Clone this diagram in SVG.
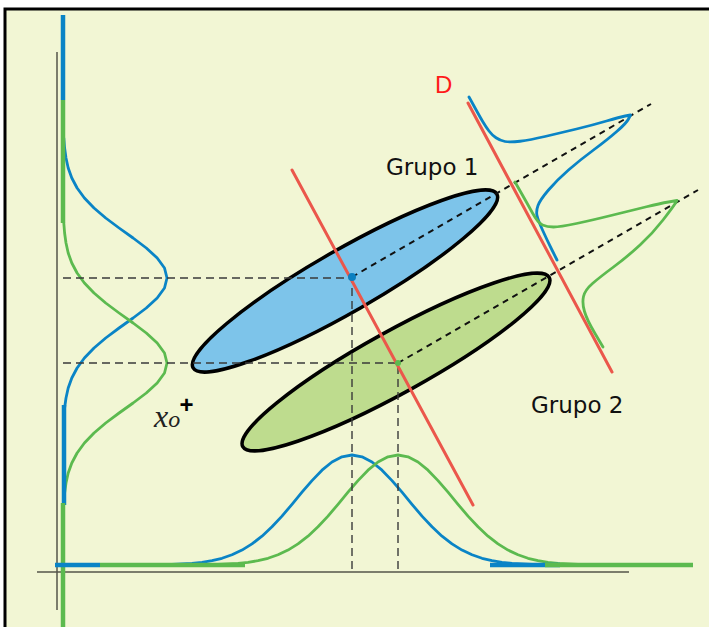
<svg xmlns="http://www.w3.org/2000/svg" xmlns:xlink="http://www.w3.org/1999/xlink" width="709" height="627" viewBox="0 0 709 627">
<style>
.axis{stroke:#55554a;stroke-width:1.5;fill:none}
.curve{fill:none;stroke-width:2.8;stroke-linejoin:round;stroke-linecap:round}
.thick{fill:none;stroke-width:4.5}
.blue{stroke:#0a84c6}
.green{stroke:#5cba4f}
.red{stroke:#eb574b;stroke-width:3;fill:none;stroke-linecap:round}
.ell{stroke:#000;stroke-width:3.5}
.dash{stroke:#3a3a3a;stroke-width:1.4;stroke-dasharray:8 5;fill:none}
.dashk{stroke:#111;stroke-width:2;stroke-dasharray:6 5;fill:none}
.lbl{font-family:"DejaVu Sans",sans-serif;font-size:23px;fill:#111}
</style>
<defs>
<path id="gx" d="M-200,0 L-180,-0.5 L-160,-1.6 L-150,-2.7 L-140,-4.3 L-130,-6.7 L-120,-10.2 L-110,-14.9 L-100,-21.1 L-90,-28.8 L-80,-38.2 L-70,-48.9 L-60,-60.7 L-50,-72.8 L-40,-84.4 L-30,-94.8 L-20,-103 L-10,-108.2 L0,-110 L10,-108.2 L20,-103 L30,-94.8 L40,-84.4 L50,-72.8 L60,-60.7 L70,-48.9 L80,-38.2 L90,-28.8 L100,-21.1 L110,-14.9 L120,-10.2 L130,-6.7 L140,-4.3 L150,-2.7 L160,-1.6 L180,-0.5 L200,0"/>
<path id="gy" d="M0.8,-140 L1.6,-130 L3,-120 L5.2,-110 L8.8,-100 L14.1,-90 L21.4,-80 L31,-70 L42.7,-60 L56.1,-50 L70.1,-40 L83.3,-30 L94.2,-20 L101.5,-10 L104,0 L101.5,10 L94.2,20 L83.3,30 L70.1,40 L56.1,50 L42.7,60 L31,70 L21.4,80 L14.1,90 L8.8,100 L5.2,110 L3,120 L1.6,130 L0.8,140"/>
</defs>
<rect id="frame" x="5" y="9" width="720" height="640" fill="#f2f6d4" stroke="#000" stroke-width="3"/>
<g id="axes">
<line class="axis" x1="57" y1="52" x2="57" y2="610"/>
<line class="axis" x1="37" y1="572" x2="629" y2="572"/>
</g>
<g id="dist-y">
<use xlink:href="#gy" class="curve blue" transform="translate(63,278)"/>
<use xlink:href="#gy" class="curve green" transform="translate(63,363)"/>
<line class="thick blue" x1="63" y1="15" x2="63" y2="100"/>
<line class="thick green" x1="63" y1="100" x2="63" y2="223"/>
<line class="thick blue" x1="64" y1="405" x2="64" y2="505"/>
<line class="thick green" x1="63" y1="503" x2="63" y2="627"/>
</g>
<g id="dist-x">
<use xlink:href="#gx" class="curve blue" transform="translate(352,565)"/>
<use xlink:href="#gx" class="curve green" transform="translate(398,565)"/>
<line class="thick blue" x1="55" y1="565" x2="100" y2="565"/>
<line class="thick green" x1="100" y1="565" x2="245" y2="565"/>
<line class="thick blue" x1="490" y1="565" x2="560" y2="565"/>
<line class="thick green" x1="545" y1="565" x2="693" y2="565"/>
</g>
<g id="grupo1">
<ellipse class="ell" cx="345" cy="281" rx="175" ry="31" fill="#7dc4ea" transform="rotate(-29.8 345 281)"/>
<text class="lbl" x="386" y="175">Grupo 1</text>
</g>
<g id="grupo2">
<ellipse class="ell" cx="396" cy="362" rx="175" ry="31" fill="#bedc8e" transform="rotate(-28.9 396 362)"/>
<text class="lbl" x="531" y="413">Grupo 2</text>
</g>
<g id="connectors">
<path class="dash" d="M63,278 H352 V572 M63,363 H398 V572"/>
<path class="dashk" d="M352,277 L651,104 M398,363 L698,190"/>
</g>
<g id="line-D">
<line class="red" x1="292" y1="170" x2="473" y2="505"/>
<line class="red" x1="468" y1="103" x2="612" y2="372"/>
<text x="435" y="93" font-family="Liberation Sans,sans-serif" font-size="24" fill="#ff1a1a">D</text>
</g>
<g id="dist-D">
<path class="curve blue" d="M469,97 L471.5,101.5 Q474,106 477,111.5 Q480,117 483,122 Q486,127 489,131 Q492,135 496,137.75 Q500,140.5 505,141.5 Q510,142.5 520,141.25 Q530,140 545,136.5 Q560,133 576.5,129 Q593,125 606.5,121 Q620,117 625.25,116 L630.5,115 L628.5,119 Q626.5,123 616.75,131.5 Q607,140 593.5,150 Q580,160 568.5,170 Q557,180 548.5,190 Q540,200 538,205.5 Q536,211 537,215.5 Q538,220 542.5,230 Q547,240 552,250 L557,260"/>
<path class="curve green" d="M515,182 L521,192.5 Q527,203 532.5,213 Q538,223 542.5,225 Q547,227 553.5,227 Q560,227 576.5,223.5 Q593,220 613,215 Q633,210 646.5,206.75 Q660,203.5 668.5,202 L677,200.5 L675,203.75 Q673,207 663,220 Q653,233 640,245 Q627,257 613.5,267 Q600,277 592.5,283.5 Q585,290 583.5,296.5 Q582,303 584.5,311.5 Q587,320 595,333.5 L603,347"/>
</g>
<g id="centers">
<circle cx="352" cy="277" r="4" fill="#0a7fc0"/>
<circle cx="398" cy="363" r="3" fill="#5cba4f"/>
</g>
<g id="x0">
<text x="154" y="427" font-family="Liberation Serif,serif" font-style="italic" font-size="32" fill="#222">x<tspan font-size="24">o</tspan></text>
<text x="186.5" y="413" text-anchor="middle" font-family="Liberation Sans,sans-serif" font-weight="bold" font-size="24" fill="#000">+</text>
</g>
</svg>
